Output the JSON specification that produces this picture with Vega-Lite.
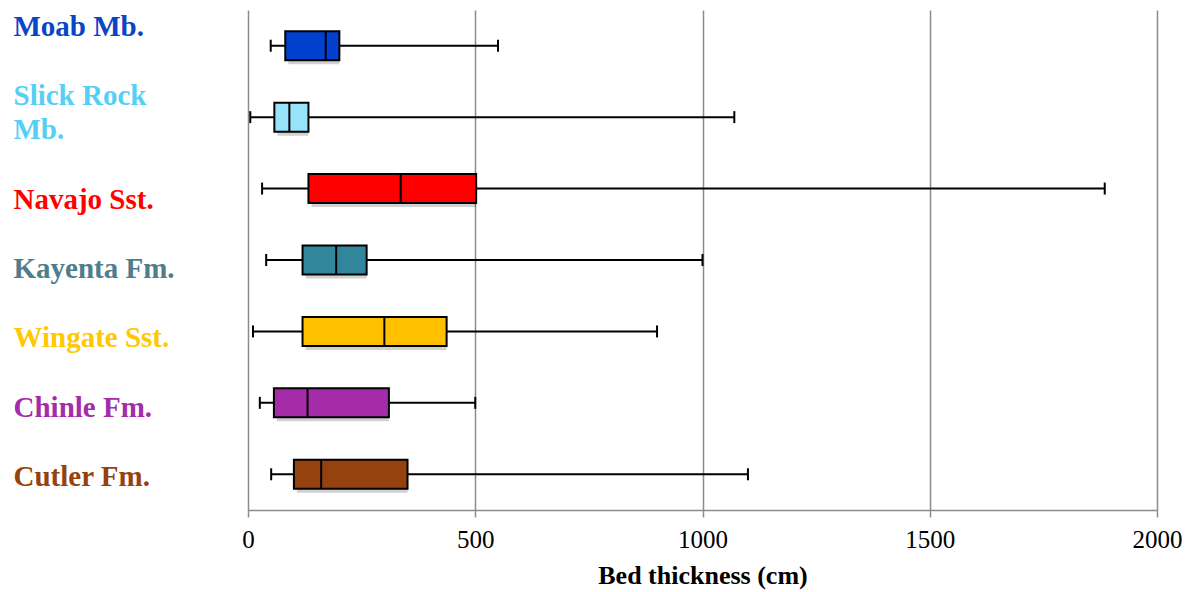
{
  "$schema": "https://vega.github.io/schema/vega-lite/v6.json",
  "width": 909,
  "height": 500,
  "padding": {"left": 13, "top": 10, "right": 20, "bottom": 2},
  "background": "white",
  "config": {
    "view": {"stroke": null},
    "font": "Liberation Serif"
  },
  "data": {
    "values": [
      {"unit": "Moab Mb.", "min": 50, "q1": 82, "median": 171, "q3": 201, "max": 550},
      {"unit": "Slick Rock Mb.", "min": 5, "q1": 58, "median": 91, "q3": 133, "max": 1070},
      {"unit": "Navajo Sst.", "min": 31, "q1": 133, "median": 336, "q3": 502, "max": 1885},
      {"unit": "Kayenta Fm.", "min": 40, "q1": 120, "median": 194, "q3": 261, "max": 1000},
      {"unit": "Wingate Sst.", "min": 11, "q1": 120, "median": 300, "q3": 437, "max": 900},
      {"unit": "Chinle Fm.", "min": 26, "q1": 57, "median": 131, "q3": 310, "max": 500},
      {"unit": "Cutler Fm.", "min": 51, "q1": 101, "median": 161, "q3": 351, "max": 1100}
    ]
  },
  "encoding": {
    "y": {
      "field": "unit",
      "type": "nominal",
      "sort": null,
      "scale": {"paddingInner": 0, "paddingOuter": 0},
      "axis": {
        "title": null,
        "domain": false,
        "ticks": false,
        "grid": false,
        "labelAlign": "left",
        "labelPadding": 235,
        "labelLimit": 0,
        "labelFont": "Liberation Serif",
        "labelFontWeight": "bold",
        "labelFontSize": 29,
        "labelLineHeight": 34,
        "labelExpr": "datum.value == 'Slick Rock Mb.' ? ['Slick Rock', 'Mb.'] : datum.value",
        "labelOffset": {
          "condition": [
            {"test": "datum.value == 'Moab Mb.'", "value": -19},
            {"test": "datum.value == 'Slick Rock Mb.'", "value": -21},
            {"test": "datum.value == 'Navajo Sst.'", "value": 11},
            {"test": "datum.value == 'Kayenta Fm.'", "value": 9},
            {"test": "datum.value == 'Wingate Sst.'", "value": 7},
            {"test": "datum.value == 'Chinle Fm.'", "value": 5}
          ],
          "value": 3
        },
        "labelColor": {
          "condition": [
            {"test": "datum.value == 'Moab Mb.'", "value": "#0A45C8"},
            {"test": "datum.value == 'Slick Rock Mb.'", "value": "#55CFF5"},
            {"test": "datum.value == 'Navajo Sst.'", "value": "#FF0000"},
            {"test": "datum.value == 'Kayenta Fm.'", "value": "#4F7D8B"},
            {"test": "datum.value == 'Wingate Sst.'", "value": "#FFC800"},
            {"test": "datum.value == 'Chinle Fm.'", "value": "#A52CA8"}
          ],
          "value": "#95420F"
        }
      }
    }
  },
  "layer": [
    {
      "mark": {"type": "rule", "color": "black", "strokeWidth": 2},
      "encoding": {
        "x": {
          "field": "min",
          "type": "quantitative",
          "scale": {"domain": [0, 2000], "nice": false},
          "axis": {
            "values": [0, 500, 1000, 1500, 2000],
            "format": "d",
            "grid": true,
            "gridColor": "#8C8C8C",
            "gridWidth": 1.5,
            "domainColor": "#8C8C8C",
            "domainWidth": 1.5,
            "tickColor": "#8C8C8C",
            "tickWidth": 1.5,
            "tickSize": 7,
            "labelFont": "Liberation Serif",
            "labelFontSize": 25,
            "labelColor": "black",
            "labelPadding": 10,
            "labelFlush": false,
            "title": "Bed thickness (cm)",
            "titleFont": "Liberation Serif",
            "titleFontSize": 26,
            "titleFontWeight": "bold",
            "titleColor": "black",
            "titlePadding": 10
          }
        },
        "x2": {"field": "max"}
      }
    },
    {
      "mark": {"type": "tick", "color": "black", "thickness": 2, "size": 12, "orient": "vertical", "opacity": 1},
      "encoding": {"x": {"field": "min", "type": "quantitative"}}
    },
    {
      "mark": {"type": "tick", "color": "black", "thickness": 2, "size": 12, "orient": "vertical", "opacity": 1},
      "encoding": {"x": {"field": "max", "type": "quantitative"}}
    },
    {
      "mark": {"type": "bar", "size": 29, "color": "#000000", "opacity": 0.18, "xOffset": 3, "yOffset": 4},
      "encoding": {
        "x": {"field": "q1", "type": "quantitative"},
        "x2": {"field": "q3"}
      }
    },
    {
      "mark": {"type": "bar", "size": 29, "stroke": "black", "strokeWidth": 2, "opacity": 1},
      "encoding": {
        "x": {"field": "q1", "type": "quantitative"},
        "x2": {"field": "q3"},
        "color": {
          "field": "unit",
          "type": "nominal",
          "legend": null,
          "scale": {
            "domain": ["Moab Mb.", "Slick Rock Mb.", "Navajo Sst.", "Kayenta Fm.", "Wingate Sst.", "Chinle Fm.", "Cutler Fm."],
            "range": ["#0041D0", "#99E3FA", "#FF0000", "#31869B", "#FFC000", "#A52CA8", "#95420F"]
          }
        }
      }
    },
    {
      "mark": {"type": "tick", "color": "black", "thickness": 2, "size": 29, "orient": "vertical", "opacity": 1},
      "encoding": {"x": {"field": "median", "type": "quantitative"}}
    }
  ]
}
